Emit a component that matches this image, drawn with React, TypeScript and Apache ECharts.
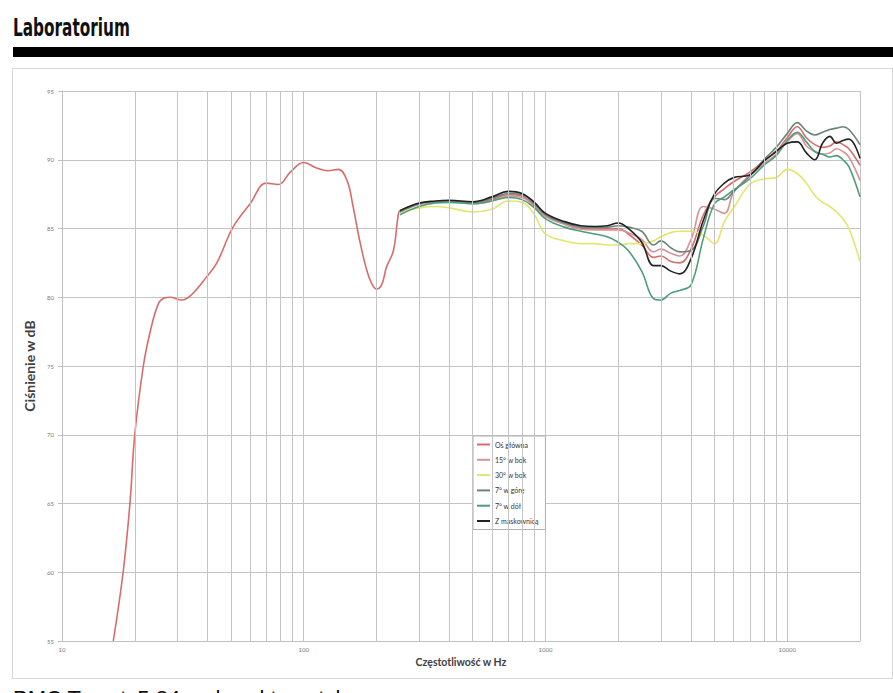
import React, { useEffect, useRef } from 'react';
import * as echarts from 'echarts';

// Main-axis curve below 250 Hz (only this series is measured there)
const FREQ_LOW = [16.3, 17.9, 19.1, 20, 21.7, 23.1, 25, 26.5, 28, 31.3, 34.4, 39.7, 43.7, 51, 60, 70, 78.5, 88, 100, 113, 126, 139, 151, 160, 170, 182, 191, 200, 210, 220, 235, 246];
const MAIN_LOW = [55, 60, 65, 70, 75, 77.4, 79.5, 79.95, 80.0, 79.8, 80.2, 81.5, 82.5, 85.1, 86.8, 88.3, 88.2, 89.1, 89.8, 89.4, 89.2, 89.3, 88.5, 86.6, 84.2, 82.0, 81.0, 80.6, 80.9, 82.2, 83.4, 86.0];

// All curves from 250 Hz up
const FREQ_HI = [250, 300, 350, 400, 500, 600, 700, 800, 900, 1000, 1200, 1400, 1600, 1800, 2000, 2200, 2500, 2800, 3000, 3300, 3600, 4000, 4500, 5000, 5500, 6000, 7000, 8000, 9000, 10000, 11000, 12000, 13000, 14000, 15000, 16000, 17000, 18000, 20000];
const MAIN_HI = [86.3, 86.8, 86.95, 87.0, 86.85, 87.1, 87.45, 87.35, 86.7, 85.95, 85.35, 85.0, 84.95, 85.0, 85.0, 84.6, 83.8, 82.9, 83.0, 82.6, 82.5, 83.5, 86.0, 87.3, 87.9, 88.4, 89.1, 89.9, 90.6, 91.6, 92.4, 91.6, 91.1, 90.9, 91.0, 91.3, 91.1, 90.8, 89.6];
const SIDE15 = [86.2, 86.75, 86.9, 86.95, 86.8, 87.0, 87.35, 87.25, 86.6, 85.85, 85.3, 84.95, 84.9, 84.9, 84.9, 84.7, 84.2, 83.3, 83.5, 83.2, 83.0, 84.2, 86.6, 86.4, 86.1, 87.6, 88.9, 89.7, 90.4, 91.3, 91.9, 91.0, 90.6, 90.4, 90.5, 90.8, 90.6, 90.2, 88.5];
const SIDE30 = [86.2, 86.5, 86.6, 86.5, 86.2, 86.4, 87.0, 86.9, 86.0, 84.6, 84.1, 83.9, 83.9, 83.8, 83.8, 83.9, 83.9, 84.1, 84.4, 84.7, 84.8, 84.8, 84.5, 83.9, 85.5, 86.5, 88.2, 88.6, 88.7, 89.3, 89.0, 88.3, 87.4, 86.9, 86.6, 86.2, 85.7, 85.0, 82.6];
const UP7 = [86.2, 86.8, 86.95, 87.0, 86.9, 87.2, 87.55, 87.45, 86.8, 86.0, 85.4, 85.1, 85.05, 85.1, 85.2, 85.1, 84.8, 83.8, 84.1, 83.6, 83.3, 83.4, 85.2, 87.2, 87.1, 87.7, 88.8, 90.0, 90.9, 91.9, 92.7, 92.1, 91.8, 92.0, 92.2, 92.3, 92.4, 92.2, 91.1];
const DOWN7 = [86.0, 86.6, 86.85, 86.9, 86.8, 87.0, 87.25, 87.1, 86.5, 85.7, 85.1, 84.8, 84.6, 84.4, 84.0, 83.4, 81.9, 79.9, 79.8, 80.3, 80.5, 80.9, 84.3, 86.8, 87.3, 87.8, 88.6, 89.6, 90.3, 91.4, 92.0, 91.3, 90.6, 90.4, 90.2, 90.3, 90.0, 89.5, 87.3];
const GRILLE = [86.3, 86.85, 87.0, 87.05, 86.95, 87.3, 87.7, 87.55, 86.9, 86.1, 85.5, 85.2, 85.15, 85.2, 85.4, 85.0, 84.0, 82.3, 82.3, 81.9, 81.7, 82.8, 85.6, 87.5, 88.3, 88.7, 88.9, 89.9, 90.6, 91.2, 91.3, 90.5, 90.0, 91.2, 91.7, 91.2, 91.4, 91.5, 90.1];

const SERIES_NAMES = ['Oś główna', '15° w bok', '30° w bok', '7° w górę', '7° w dół', 'Z maskownicą'];
const SERIES_COLORS = ['#d86c6c', '#d4949a', '#e3e66b', '#6b8577', '#4e9d7b', '#222222'];
const X_LABELS = [10, 100, 1000, 10000];
const MINOR_FREQS = [20, 30, 40, 50, 60, 70, 80, 90, 200, 300, 400, 500, 600, 700, 800, 900, 2000, 3000, 4000, 5000, 6000, 7000, 8000, 9000];

const GRID_COLOR = '#c4c4c4';
const FONT = 'Lato, "Noto Sans", sans-serif';

function zip(f: number[], v: number[]) {
  return f.map((x, i) => [x, v[i]]);
}

export default function App() {
  const ref = useRef<HTMLDivElement>(null);

  useEffect(() => {
    if (!ref.current) return;
    const chart = echarts.init(ref.current, undefined, { renderer: 'svg' });
    const dataSets = [
      [...zip(FREQ_LOW, MAIN_LOW), ...zip(FREQ_HI, MAIN_HI)],
      zip(FREQ_HI, SIDE15),
      zip(FREQ_HI, SIDE30),
      zip(FREQ_HI, UP7),
      zip(FREQ_HI, DOWN7),
      zip(FREQ_HI, GRILLE),
    ];
    const curves = SERIES_NAMES.map((name, i) => ({
      name,
      type: 'line',
      data: dataSets[i],
      symbol: 'none',
      showSymbol: false,
      smooth: 0.4,
      z: 3,
      color: SERIES_COLORS[i],
      lineStyle: { color: SERIES_COLORS[i], width: 1.6 },
      emphasis: { disabled: true },
    }));
    chart.setOption({
      animation: false,
      backgroundColor: '#ffffff',
      textStyle: { fontFamily: FONT },
      grid: { left: 49, top: 22, right: 32, bottom: 37, containLabel: false },
      legend: {
        data: SERIES_NAMES,
        orient: 'vertical',
        left: 460,
        top: 367,
        backgroundColor: '#ffffff',
        borderColor: '#b0b0b0',
        borderWidth: 1,
        borderRadius: 0,
        padding: [5, 7, 5, 4],
        icon: 'rect',
        itemWidth: 13,
        itemHeight: 2,
        itemGap: 8.3,
        textStyle: { fontSize: 7, color: '#333', fontFamily: FONT },
      },
      xAxis: {
        type: 'log',
        logBase: 10,
        min: 10,
        max: 20000,
        name: 'Częstotliwość w Hz',
        nameLocation: 'middle',
        nameGap: 15,
        nameTextStyle: { fontSize: 10.5, fontWeight: 'bold', color: '#404040', fontFamily: FONT },
        axisLine: { show: true, lineStyle: { color: '#bfbfbf' } },
        axisTick: { show: false },
        axisLabel: {
          fontSize: 6,
          color: '#777',
          margin: 5,
          formatter: (v: number) => (X_LABELS.includes(Math.round(v)) ? String(Math.round(v)) : ''),
        },
        splitLine: { show: true, lineStyle: { color: GRID_COLOR, width: 1 } },
      },
      yAxis: {
        type: 'value',
        min: 55,
        max: 95,
        interval: 5,
        name: 'Ciśnienie w dB',
        nameLocation: 'middle',
        nameGap: 20,
        nameRotate: 90,
        nameTextStyle: { fontSize: 14, fontWeight: 'bold', color: '#404040', fontFamily: FONT },
        axisLine: { show: true, lineStyle: { color: '#bfbfbf' } },
        axisTick: { show: true, length: 4, lineStyle: { color: '#bfbfbf' } },
        axisLabel: { fontSize: 6, color: '#777', margin: 8 },
        splitLine: { show: true, lineStyle: { color: GRID_COLOR, width: 1 } },
      },
      series: [
        {
          name: 'grid',
          type: 'line',
          data: [[10, 55]],
          symbol: 'none',
          lineStyle: { opacity: 0 },
          z: 1,
          silent: true,
          markLine: {
            silent: true,
            symbol: ['none', 'none'],
            label: { show: false },
            lineStyle: { color: GRID_COLOR, width: 1, type: 'solid' },
            emphasis: { disabled: true },
            data: MINOR_FREQS.map((f) => ({ xAxis: f })),
          },
        },
        ...curves,
      ],
    });
    return () => chart.dispose();
  }, []);

  return (
    <div style={{ position: 'absolute', left: 0, top: 0, width: 893, height: 693, overflow: 'hidden', background: '#fff' }}>
      <div
        style={{
          position: 'absolute',
          left: 13,
          top: 15,
          fontFamily: '"DejaVu Sans Condensed", "DejaVu Sans", sans-serif',
          fontWeight: 'bold',
          fontSize: 25,
          lineHeight: '25px',
          color: '#111',
          whiteSpace: 'nowrap',
          transform: 'scaleX(0.68)',
          transformOrigin: 'left top',
        }}
      >
        Laboratorium
      </div>
      <div style={{ position: 'absolute', left: 13, top: 47, width: 880, height: 10, background: '#000' }} />
      <div
        style={{
          position: 'absolute',
          left: 12,
          top: 68,
          width: 879,
          height: 609,
          border: '1px solid #d8d8d8',
          background: '#fff',
        }}
      >
        <div ref={ref} style={{ position: 'absolute', left: 0, top: 0, width: 879, height: 609 }} />
      </div>
      <div
        style={{
          position: 'absolute',
          left: 13,
          top: 686,
          fontFamily: '"Liberation Sans", Arial, sans-serif',
          fontSize: 22,
          lineHeight: '26px',
          color: '#111',
          whiteSpace: 'nowrap',
        }}
      >
        PMC Twenty5.24 – charakterystyka
      </div>
    </div>
  );
}
